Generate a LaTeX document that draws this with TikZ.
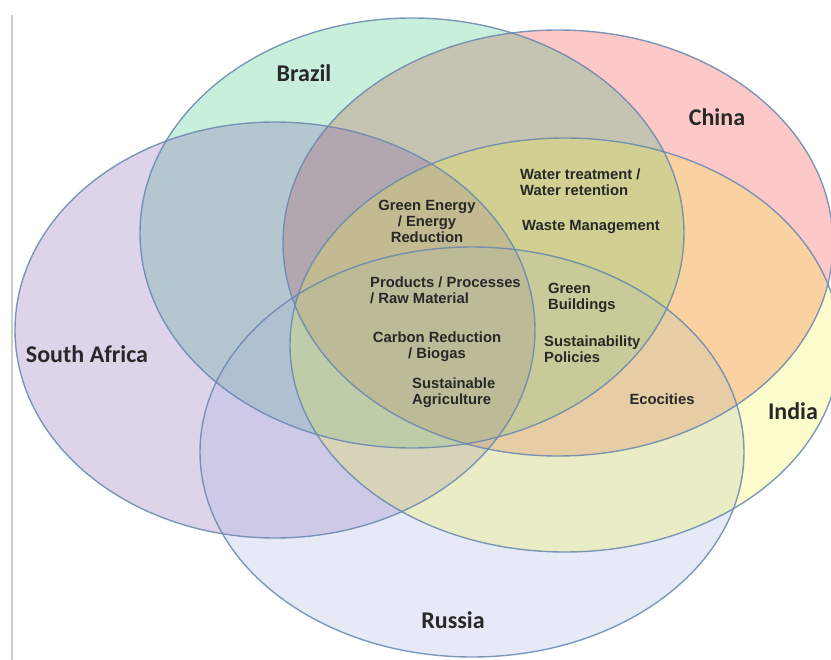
\documentclass[tikz,border=0pt]{standalone}
\usepackage{fontspec}
\setmainfont{Liberation Sans}
\newfontfamily\countryfont{Carlito}
\usepackage{xcolor}
\definecolor{brazilfill}{RGB}{35,187,115}
\definecolor{chinafill}{RGB}{243,35,35}
\definecolor{safill}{RGB}{123,83,171}
\definecolor{indiafill}{RGB}{243,243,51}
\definecolor{russiafill}{RGB}{155,171,219}
\definecolor{rimblue}{RGB}{105,135,175}
\definecolor{inktext}{RGB}{40,40,40}

\begin{document}
\begin{tikzpicture}[x=1pt, y=-1pt,
    country/.style={font=\countryfont\bfseries\fontsize{24}{24}\selectfont, text=inktext},
    topic/.style={font=\bfseries\fontsize{14.8}{16}\selectfont, text=inktext, inner sep=0pt},
    rim/.style={draw=rimblue, line width=1.4pt, draw opacity=0.85},
    tint/.style={fill opacity=0.25}]
    \useasboundingbox (0,0) rectangle (831,660);
    \clip (0,0) rectangle (831,660);

    % the five countries, China at the bottom and India on top
    \fill[tint, chinafill] (558,243) ellipse [x radius=275pt, y radius=213pt];
    \fill[tint, brazilfill] (412,233) ellipse [x radius=272pt, y radius=215pt];
    \fill[tint, safill] (275,330) ellipse [x radius=260pt, y radius=208pt];
    \fill[tint, russiafill] (472,452) ellipse [x radius=272pt, y radius=205pt];
    \fill[tint, indiafill] (565,345) ellipse [x radius=275pt, y radius=207pt];
    \draw[rim] (558,243) ellipse [x radius=275pt, y radius=213pt];
    \draw[rim] (412,233) ellipse [x radius=272pt, y radius=215pt];
    \draw[rim] (275,330) ellipse [x radius=260pt, y radius=208pt];
    \draw[rim] (472,452) ellipse [x radius=272pt, y radius=205pt];
    \draw[rim] (565,345) ellipse [x radius=275pt, y radius=207pt];

    \draw[black!20, line width=2pt] (12,15) -- (12,660);

    \node[country] (brazil) at (304,73) {Brazil};
    \node[country] (china) at (717,117) {China};
    \node[country] (safrica) at (87,354) {South Africa};
    \node[country] (india) at (793,411) {India};
    \node[country] (russia) at (453,620) {Russia};

    \node[topic, align=center] (energy) at (427,221) {Green Energy\\/ Energy\\Reduction};
    \node[topic, align=left, anchor=west] (water) at (520,182) {Water treatment /\\Water retention};
    \node[topic, anchor=west] (waste) at (522,227) {Waste Management};
    \node[topic, align=left, anchor=west] (products) at (370,290) {Products / Processes\\/ Raw Material};
    \node[topic, align=left, anchor=west] (buildings) at (548,298) {Green\\Buildings};
    \node[topic, align=center] (carbon) at (437,347) {Carbon Reduction\\/ Biogas};
    \node[topic, align=left, anchor=west] (policies) at (544,349) {Sustainability\\Policies};
    \node[topic, align=left, anchor=west] (agri) at (412,393) {Sustainable\\Agriculture};
    \node[topic] (eco) at (662,399) {Ecocities};
\end{tikzpicture}
\end{document}
